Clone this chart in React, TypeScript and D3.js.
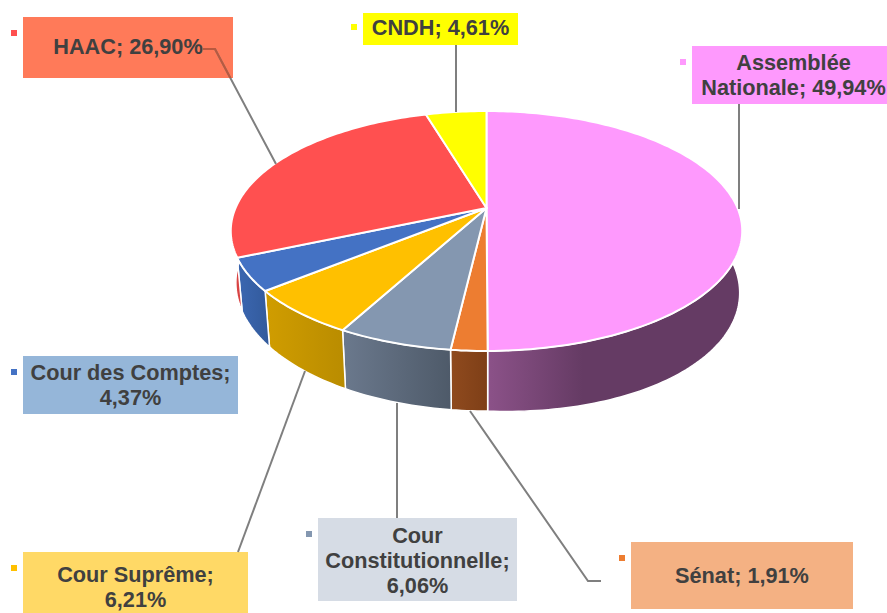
import React from "react";
import * as d3 from "d3";

const W = 887, H = 613;
const names = ["Assemblée Nationale", "Sénat", "Cour Constitutionnelle", "Cour Suprême", "Cour des Comptes", "HAAC", "CNDH"];
const values = [49.94, 1.91, 6.06, 6.21, 4.37, 26.9, 4.61];
const labelLines = [
  ["Assemblée", "Nationale; 49,94%"],
  ["Sénat; 1,91%"],
  ["Cour", "Constitutionnelle;", "6,06%"],
  ["Cour Suprême;", "6,21%"],
  ["Cour des Comptes;", "4,37%"],
  ["HAAC; 26,90%"],
  ["CNDH; 4,61%"],
];

const topColors = ["#fe99fd", "#ed7d31", "#8497b0", "#ffc000", "#4472c4", "#ff5050", "#ffff00"];
const wallLeft = ["#8c5289", "#8f4a1e", "#6a788c", "#cf9c00", "#3a65ae", "#d94444", "#d9d900"];
const wallRight = ["#653b64", "#7e3f17", "#4e5a69", "#b98c00", "#325a9b", "#a83232", "#b0b000"];
const wallMid = [0.38, 1, 1, 1, 1, 1, 1];

const boxLayout = [
  { x: 692, y: 46, w: 195, h: 58, fill: "#fe99fd", mx: 680, my: 59, dx: 4, dy: 2 },
  { x: 631, y: 542, w: 222, h: 67, fill: "#f4b183", mx: 619, my: 555, dx: 0, dy: 2 },
  { x: 318, y: 518, w: 199, h: 83, fill: "#d6dce5", mx: 306, my: 531, dx: 0, dy: 3 },
  { x: 23, y: 552, w: 225, h: 61, fill: "#ffd966", mx: 11, my: 565, dx: 0, dy: 6 },
  { x: 23, y: 356, w: 215, h: 58, fill: "#95b6d9", mx: 11, my: 369, dx: 0, dy: 2 },
  { x: 23, y: 17, w: 210, h: 61, fill: "#ff7a59", mx: 11, my: 30, dx: 0, dy: 1 },
  { x: 363, y: 13, w: 155, h: 32, fill: "#ffff00", mx: 351, my: 24, dx: 0, dy: 0 },
];
const leaders: [number, number][][] = [
  [[739, 104], [739, 209]],
  [[470, 411], [588, 581], [601, 581]],
  [[397, 518], [397, 403]],
  [[238, 552], [305, 371]],
  [],
  [[203, 49], [215, 49], [276, 164]],
  [[456, 45], [456, 112]],
];

// Perspective disc: unit-circle points projected onto the page.
const cx = 486.5;
const c = -0.19167, a = 75.7, b = 208, d = 251;
const top = (t: number): [number, number] => {
  const u = Math.sin(t), v = -Math.cos(t);
  const den = 1 + c * v;
  return [cx + (d * u) / den, (a * v + b) / den];
};
const bottom = (t: number): [number, number] => {
  const [x, y] = top(t);
  const dx = x - cx;
  return [cx + dx * (dx > 0 ? 0.99 : 0.98), 1.07 * y + 35.5 + Math.max(0, dx) * 0.04];
};
const arcPts = (f: (t: number) => [number, number], s: number, e: number) => {
  const n = Math.max(4, Math.ceil((e - s) / 0.02));
  return d3.range(n + 1).map((i) => f(s + ((e - s) * i) / n));
};
const line = d3.line<[number, number]>();
const slices = d3.pie<number>().value((v) => v).sort(null)(values);

export default function App() {
  const hb = boxLayout[5];
  return (
    <svg width={W} height={H} viewBox={`0 0 ${W} ${H}`} style={{ position: "fixed", left: 0, top: 0, background: "#fff" }}>
      <defs>
        {slices.map((s, i) => {
          const pts = arcPts(bottom, s.startAngle, s.endAngle);
          const ext = d3.extent(pts, (p) => p[0]) as [number, number];
          return (
            <linearGradient key={i} id={`wall${i}`} gradientUnits="userSpaceOnUse" x1={ext[0]} x2={ext[1]} y1={0} y2={0}>
              <stop offset={0} stopColor={wallLeft[i]} />
              <stop offset={wallMid[i]} stopColor={wallRight[i]} />
            </linearGradient>
          );
        })}
        <clipPath id="haacBox"><rect x={hb.x} y={hb.y} width={hb.w} height={hb.h} /></clipPath>
      </defs>
      {slices.map((s, i) => {
        const pts = [...arcPts(top, s.startAngle, s.endAngle), ...arcPts(bottom, s.startAngle, s.endAngle).reverse()];
        return <path key={i} d={line(pts) + "Z"} fill={`url(#wall${i})`} stroke="#fff" strokeWidth={1.5} strokeLinejoin="round" />;
      })}
      {slices.map((s, i) => {
        const pts = [[cx, b] as [number, number], ...arcPts(top, s.startAngle, s.endAngle)];
        return <path key={i} d={line(pts) + "Z"} fill={topColors[i]} stroke="#fff" strokeWidth={2} strokeLinejoin="round" />;
      })}
      {boxLayout.map((bx, i) => (
        <rect key={i} x={bx.x} y={bx.y} width={bx.w} height={bx.h} fill={bx.fill} />
      ))}
      {leaders.map((l, i) =>
        l.length ? <path key={i} d={line(l) ?? ""} fill="none" stroke="#7f7f7f" strokeWidth={2} /> : null
      )}
      <path d={line(leaders[5]) ?? ""} fill="none" stroke="#b9593f" strokeWidth={2} clipPath="url(#haacBox)" />
      {boxLayout.map((bx, i) => (
        <g key={i} aria-label={names[i]}>
          <rect x={bx.mx} y={bx.my} width={6} height={6} fill={topColors[i]} />
          {labelLines[i].map((t, j) => (
            <text
              key={j}
              x={bx.x + bx.w / 2 + bx.dx}
              y={bx.y + bx.h / 2 + (j - (labelLines[i].length - 1) / 2) * 25 + bx.dy}
              dominantBaseline="middle"
              textAnchor="middle"
              fontFamily="'Liberation Sans', Arial, sans-serif"
              fontWeight={700}
              fontSize={21.7}
              fill="#404040"
            >
              {t}
            </text>
          ))}
        </g>
      ))}
    </svg>
  );
}
